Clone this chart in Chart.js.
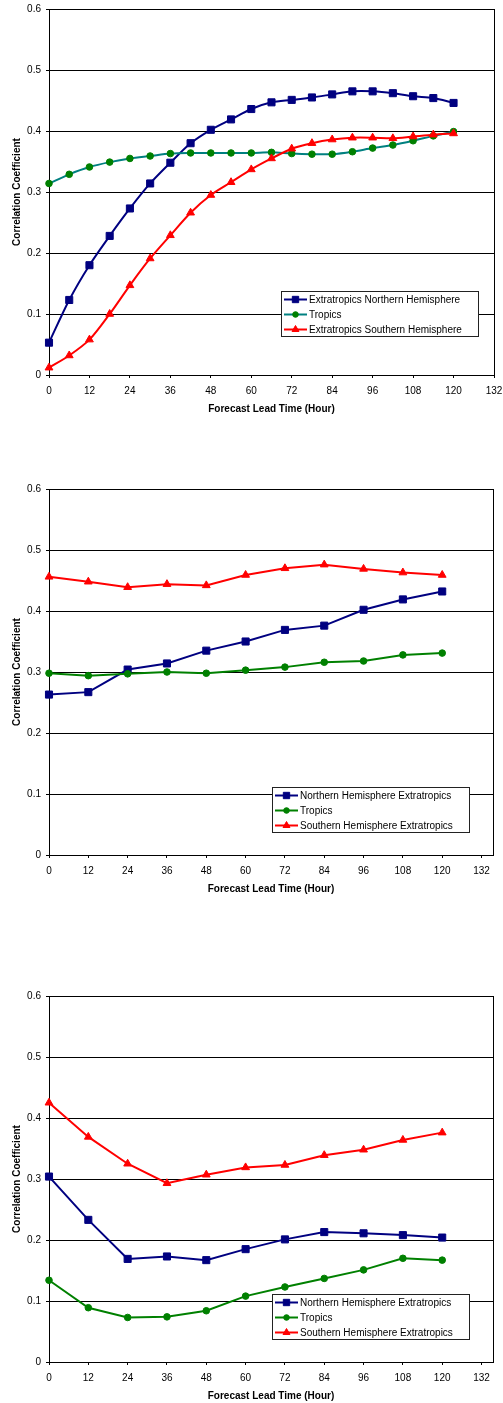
<!DOCTYPE html>
<html>
<head>
<meta charset="utf-8">
<script src="https://cdn.jsdelivr.net/npm/chart.js@4.4.1/dist/chart.umd.min.js"></script>
<style>
  html, body { margin: 0; padding: 0; background: #fff; overflow: hidden; width: 503px; height: 1403px; }
  .panel { position: absolute; left: 0; width: 503px; height: 419px; }
</style>
</head>
<body>
<div class="panel" style="top:0px"><canvas id="chart1" width="503" height="419"></canvas></div>
<div class="panel" style="top:480px"><canvas id="chart2" width="503" height="419"></canvas></div>
<div class="panel" style="top:987px"><canvas id="chart3" width="503" height="419"></canvas></div>
<script>
const FONT = "'Liberation Sans', Arial, Helvetica, sans-serif";

// lead times
const hours6 = [0, 6, 12, 18, 24, 30, 36, 42, 48, 54, 60, 66, 72, 78, 84, 90, 96, 102, 108, 114, 120];
const hours12 = [0, 12, 24, 36, 48, 60, 72, 84, 96, 108, 120];
const xTickValues = [0, 12, 24, 36, 48, 60, 72, 84, 96, 108, 120, 132];

// ── Chart 1 (6-hourly) ──────────────────────────────────────────────────────
const labels1 = ['Extratropics Northern Hemisphere', 'Tropics', 'Extratropics Southern Hemisphere'];
const nh1 = [0.053, 0.123, 0.180, 0.228, 0.273, 0.314, 0.348, 0.380, 0.402, 0.419, 0.436,
             0.447, 0.451, 0.455, 0.460, 0.465, 0.465, 0.462, 0.457, 0.454, 0.446];
const tr1 = [0.314, 0.329, 0.341, 0.349, 0.355, 0.359, 0.363, 0.364, 0.364, 0.364, 0.364,
             0.365, 0.363, 0.362, 0.362, 0.366, 0.372, 0.377, 0.384, 0.392, 0.399];
const sh1 = [0.012, 0.032, 0.058, 0.100, 0.147, 0.191, 0.229, 0.266, 0.295, 0.316, 0.337,
             0.355, 0.371, 0.380, 0.386, 0.389, 0.389, 0.388, 0.391, 0.394, 0.396];

// ── Chart 2 (12-hourly) ─────────────────────────────────────────────────────
const labels23 = ['Northern Hemisphere Extratropics', 'Tropics', 'Southern Hemisphere Extratropics'];
const nh2 = [0.263, 0.267, 0.304, 0.314, 0.335, 0.350, 0.369, 0.376, 0.402, 0.419, 0.432];
const tr2 = [0.298, 0.294, 0.297, 0.300, 0.298, 0.303, 0.308, 0.316, 0.318, 0.328, 0.331];
const sh2 = [0.456, 0.448, 0.439, 0.444, 0.442, 0.459, 0.470, 0.476, 0.469, 0.463, 0.459];

// ── Chart 3 (12-hourly) ─────────────────────────────────────────────────────
const nh3 = [0.304, 0.233, 0.169, 0.173, 0.167, 0.185, 0.201, 0.213, 0.211, 0.208, 0.204];
const tr3 = [0.134, 0.089, 0.073, 0.074, 0.084, 0.108, 0.123, 0.137, 0.151, 0.170, 0.167];
const sh3 = [0.425, 0.369, 0.325, 0.293, 0.307, 0.319, 0.323, 0.339, 0.348, 0.364, 0.376];

const NAVY = '#000080';
const GREEN = '#008000';
const TEAL = '#008080';
const RED = '#FF0000';

function pairs(xs, ys) {
  return xs.map((x, i) => ({ x, y: ys[i] }));
}

function series(label, xs, ys, lineColor, markColor, pointStyle, radius, order, tension) {
  return {
    label,
    data: pairs(xs, ys),
    borderColor: lineColor,
    borderWidth: 2,
    pointStyle,
    pointRadius: radius,
    pointBackgroundColor: markColor,
    pointBorderColor: markColor,
    pointBorderWidth: 1,
    tension,
    order,
    clip: false,
  };
}

// Legend box drawn inside the plot area
const boxLegend = {
  id: 'boxLegend',
  afterDatasetsDraw(chart, args, opts) {
    const ctx = chart.ctx;
    const { x, y, w, h } = opts;
    ctx.save();
    ctx.fillStyle = '#fff';
    ctx.fillRect(x, y, w, h);
    ctx.strokeStyle = '#222';
    ctx.lineWidth = 1;
    ctx.strokeRect(x + 0.5, y + 0.5, w, h);
    chart.data.datasets.forEach((ds, i) => {
      const cy = y + 8.5 + i * 15;
      ctx.strokeStyle = ds.borderColor;
      ctx.lineWidth = 2;
      ctx.beginPath();
      ctx.moveTo(x + 3, cy);
      ctx.lineTo(x + 26, cy);
      ctx.stroke();
      ctx.fillStyle = ds.pointBackgroundColor;
      ctx.strokeStyle = ds.pointBorderColor;
      ctx.lineWidth = 1;
      Chart.helpers.drawPoint(ctx, { pointStyle: ds.pointStyle, radius: ds.pointRadius - 0.5, rotation: 0, borderWidth: 1 }, x + 14.5, cy);
      ctx.fillStyle = '#000';
      ctx.font = `10px ${FONT}`;
      ctx.textAlign = 'left';
      ctx.textBaseline = 'middle';
      ctx.fillText(ds.label, x + 28, cy + 0.5);
    });
    ctx.restore();
  },
};

// Right-hand border of the plot area
const rightBorder = {
  id: 'rightBorder',
  beforeDatasetsDraw(chart) {
    const { ctx, chartArea } = chart;
    const xr = Math.round(chartArea.right) + 0.5;
    ctx.save();
    ctx.strokeStyle = '#000';
    ctx.lineWidth = 1;
    ctx.beginPath();
    ctx.moveTo(xr, chartArea.top);
    ctx.lineTo(xr, chartArea.bottom + 0.5);
    ctx.stroke();
    ctx.restore();
  },
};

function makeChart(id, datasets, xMax, padRight, legendPos) {
  return new Chart(document.getElementById(id), {
    type: 'line',
    data: { datasets },
    plugins: [rightBorder, boxLegend],
    options: {
      responsive: false,
      animation: false,
      layout: { padding: { top: 9, left: 0, right: padRight, bottom: 0 } },
      plugins: {
        legend: { display: false },
        tooltip: { enabled: false },
        boxLegend: legendPos,
      },
      scales: {
        x: {
          type: 'linear',
          min: 0,
          max: xMax,
          afterBuildTicks: s => { s.ticks = xTickValues.map(v => ({ value: v })); },
          afterFit: s => { s.height = 44; s.paddingLeft = 0; s.paddingRight = 0; },
          grid: { drawOnChartArea: false, drawTicks: true, tickLength: 3, color: '#000' },
          border: { color: '#000', width: 1 },
          ticks: {
            padding: 7,
            maxRotation: 0,
            autoSkip: false,
            color: '#000',
            font: { family: FONT, size: 10 },
          },
          title: {
            display: true,
            text: 'Forecast Lead Time (Hour)',
            color: '#000',
            font: { family: FONT, size: 10, weight: 'bold' },
            padding: { top: 0, bottom: 3.5 },
          },
        },
        y: {
          min: 0,
          max: 0.6,
          afterFit: s => { s.width = 49; s.paddingTop = 0; s.paddingBottom = 0; },
          grid: { color: '#000', lineWidth: 1, drawTicks: true, tickLength: 3 },
          border: { color: '#000', width: 1 },
          ticks: {
            stepSize: 0.1,
            padding: 5,
            color: '#000',
            font: { family: FONT, size: 10 },
            callback: v => (v === 0 ? '0' : v.toFixed(1)),
          },
          title: {
            display: true,
            text: 'Correlation Coefficient',
            color: '#000',
            font: { family: FONT, size: 10, weight: 'bold' },
            padding: { top: 11, bottom: 0 },
          },
        },
      },
    },
  });
}

makeChart('chart1', [
  series(labels1[0], hours6, nh1, NAVY, NAVY, 'rect', 5, 3, 0.3),
  series(labels1[1], hours6, tr1, TEAL, GREEN, 'circle', 3.3, 2, 0.3),
  series(labels1[2], hours6, sh1, RED, RED, 'triangle', 4.5, 1, 0.3),
], 132, 9, { x: 281, y: 291, w: 197, h: 45 });

makeChart('chart2', [
  series(labels23[0], hours12, nh2, NAVY, NAVY, 'rect', 5, 3, 0),
  series(labels23[1], hours12, tr2, GREEN, GREEN, 'circle', 3.3, 2, 0),
  series(labels23[2], hours12, sh2, RED, RED, 'triangle', 4.5, 1, 0),
], 135.5, 10, { x: 272, y: 307, w: 197, h: 45 });

makeChart('chart3', [
  series(labels23[0], hours12, nh3, NAVY, NAVY, 'rect', 5, 3, 0),
  series(labels23[1], hours12, tr3, GREEN, GREEN, 'circle', 3.3, 2, 0),
  series(labels23[2], hours12, sh3, RED, RED, 'triangle', 4.5, 1, 0),
], 135.5, 10, { x: 272, y: 307, w: 197, h: 45 });
</script>
</body>
</html>
